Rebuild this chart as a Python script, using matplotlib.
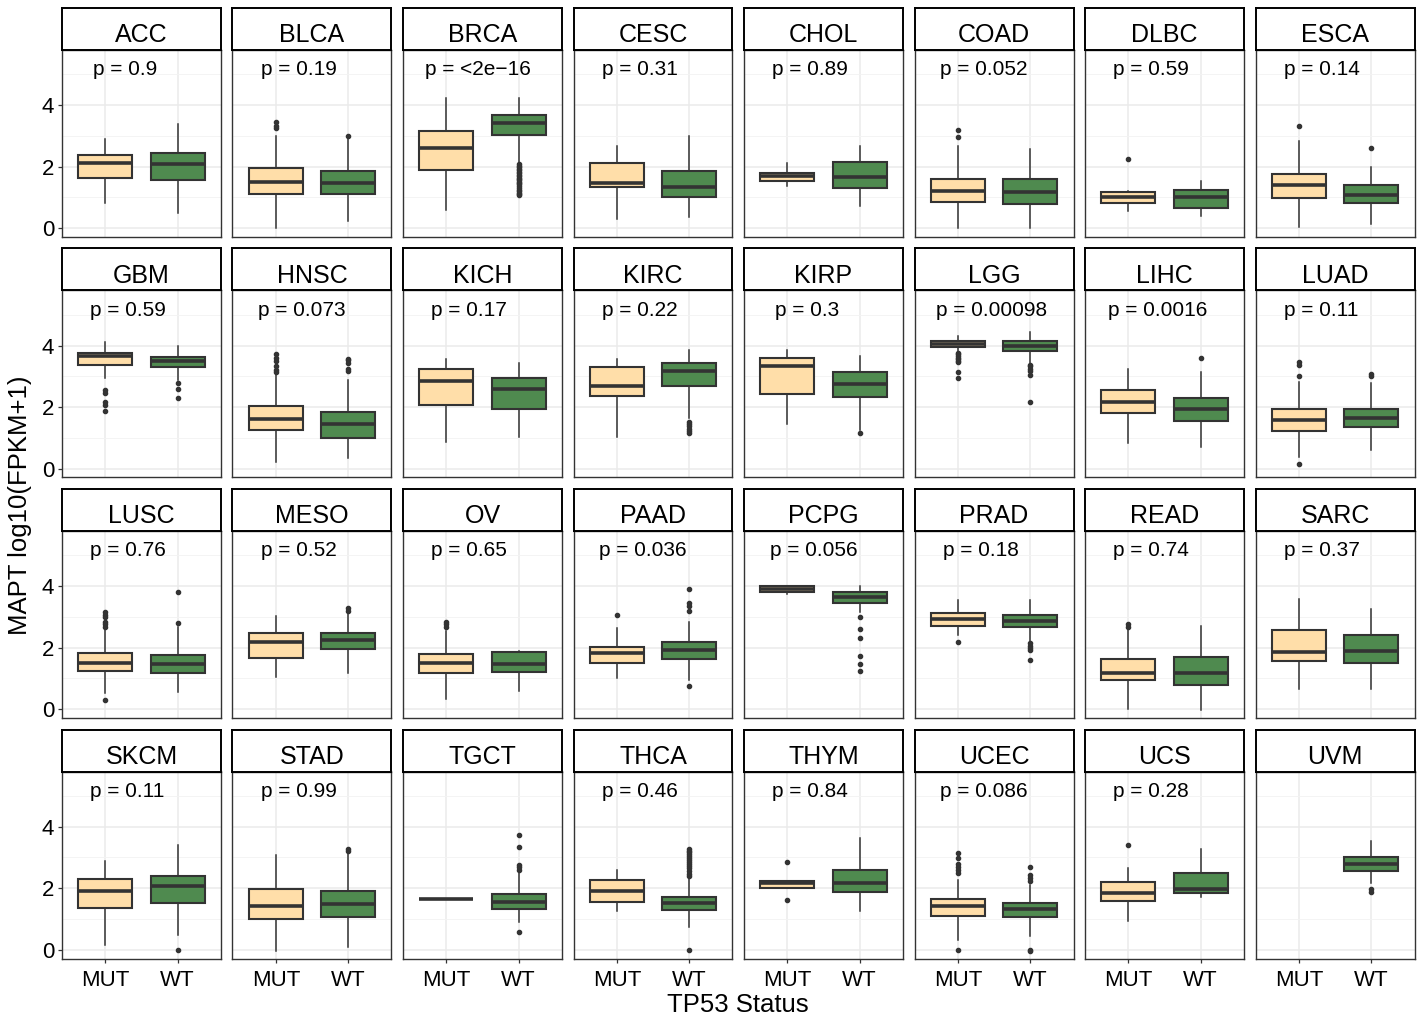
# boxplots_mapt_tp53.py — Expresión de MAPT según estado de TP53 en 32 tipos tumorales
# -------------------------------------------------------------------------------------
import matplotlib
matplotlib.use("Agg")
import matplotlib.pyplot as plt

plt.rcParams["font.family"] = ["Liberation Sans", "DejaVu Sans"]

TIPOS = ["ACC", "BLCA", "BRCA", "CESC", "CHOL", "COAD", "DLBC", "ESCA",
         "GBM", "HNSC", "KICH", "KIRC", "KIRP", "LGG", "LIHC", "LUAD",
         "LUSC", "MESO", "OV", "PAAD", "PCPG", "PRAD", "READ", "SARC",
         "SKCM", "STAD", "TGCT", "THCA", "THYM", "UCEC", "UCS", "UVM"]

P_VALORES = ["0.9", "0.19", "<2e\u221216", "0.31", "0.89", "0.052", "0.59", "0.14",
             "0.59", "0.073", "0.17", "0.22", "0.3", "0.00098", "0.0016", "0.11",
             "0.76", "0.52", "0.65", "0.036", "0.056", "0.18", "0.74", "0.37",
             "0.11", "0.99", None, "0.46", "0.84", "0.086", "0.28", None]

GRUPOS = ["MUT", "WT"]

# MUT: bigote inferior, Q1, mediana, Q3, bigote superior (None = sin muestras)
MUT_MIN = [0.83, 0.00, 0.58, 0.28, 1.37, 0.00, 0.55, 0.03,
           2.94, 0.22, 0.86, 1.04, 1.46, 3.80, 0.82, 0.38,
           0.53, 1.05, 0.32, 1.01, 3.74, 2.41, 0.00, 0.65,
           0.15, -0.03, 1.64, 1.25, 1.99, 0.30, 0.93, None]
MUT_Q1 = [1.64, 1.12, 1.88, 1.32, 1.52, 0.86, 0.83, 0.97,
          3.38, 1.26, 2.06, 2.37, 2.44, 3.96, 1.80, 1.22,
          1.23, 1.67, 1.17, 1.49, 3.81, 2.71, 0.95, 1.57,
          1.36, 0.99, 1.64, 1.55, 1.99, 1.08, 1.58, None]
MUT_MED = [2.12, 1.49, 2.61, 1.48, 1.70, 1.21, 1.01, 1.41,
           3.66, 1.62, 2.86, 2.69, 3.35, 4.05, 2.18, 1.58,
           1.50, 2.17, 1.50, 1.81, 3.90, 2.92, 1.18, 1.84,
           1.90, 1.42, 1.64, 1.91, 2.15, 1.41, 1.83, None]
MUT_Q3 = [2.39, 1.95, 3.16, 2.12, 1.79, 1.60, 1.18, 1.77,
          3.75, 2.02, 3.24, 3.31, 3.60, 4.15, 2.54, 1.93,
          1.82, 2.47, 1.78, 2.03, 3.99, 3.11, 1.62, 2.56,
          2.30, 1.97, 1.64, 2.26, 2.24, 1.64, 2.21, None]
MUT_MAX = [2.91, 2.99, 4.24, 2.67, 2.10, 2.67, 1.20, 2.83,
           4.12, 3.10, 3.57, 3.57, 3.84, 4.32, 3.24, 2.83,
           2.63, 3.04, 2.55, 2.63, 3.99, 3.55, 2.59, 3.59,
           2.89, 3.08, 1.64, 2.59, 2.24, 2.26, 2.64, None]
MUT_ATIPICOS = [
    [], [3.24, 3.33, 3.46], [], [], [], [2.95, 3.20], [2.23], [3.32],
    [2.54, 2.45, 2.17, 2.08, 1.87], [3.13, 3.22, 3.32, 3.49, 3.60, 3.71], [], [], [],
    [3.76, 3.71, 3.66, 3.60, 3.55, 3.50, 3.45, 3.13, 2.95], [], [3.46, 3.38, 3.02, 0.16],
    [3.17, 3.06, 2.99, 2.84, 2.77, 2.68, 0.28], [], [2.84, 2.77, 2.68], [3.06],
    [], [2.17], [2.68, 2.77], [],
    [], [], [], [], [2.84, 1.60], [2.48, 2.59, 2.70, 2.79, 2.97, 3.14, 0.00], [3.41], [],
]

# WT
WT_MIN = [0.49, 0.23, 2.10, 0.36, 0.71, 0.00, 0.40, 0.13,
          2.89, 0.33, 1.04, 1.63, 1.25, 3.40, 0.71, 0.62,
          0.54, 1.18, 0.59, 0.94, 3.17, 2.19, -0.04, 0.65,
          0.46, 0.08, 0.90, 0.73, 1.25, 0.43, 1.72, 2.15]
WT_Q1 = [1.55, 1.12, 3.02, 1.01, 1.30, 0.78, 0.64, 0.80,
         3.29, 1.01, 1.95, 2.67, 2.34, 3.83, 1.55, 1.36,
         1.17, 1.96, 1.19, 1.63, 3.45, 2.68, 0.78, 1.50,
         1.52, 1.06, 1.31, 1.30, 1.86, 1.06, 1.83, 2.57]
WT_MED = [2.08, 1.47, 3.42, 1.34, 1.66, 1.16, 1.01, 1.08,
          3.50, 1.45, 2.59, 3.18, 2.74, 4.00, 1.95, 1.63,
          1.48, 2.26, 1.48, 1.92, 3.63, 2.88, 1.18, 1.89,
          2.07, 1.48, 1.55, 1.50, 2.17, 1.31, 1.96, 2.79]
WT_Q3 = [2.45, 1.87, 3.67, 1.84, 2.14, 1.59, 1.25, 1.41,
         3.63, 1.85, 2.95, 3.42, 3.13, 4.14, 2.29, 1.94,
         1.77, 2.47, 1.87, 2.19, 3.80, 3.07, 1.70, 2.41,
         2.38, 1.90, 1.80, 1.72, 2.59, 1.53, 2.48, 3.01]
WT_MAX = [3.38, 2.93, 4.24, 2.99, 2.67, 2.57, 1.54, 1.97,
          3.99, 2.89, 3.43, 3.85, 3.67, 4.45, 3.14, 2.78,
          2.68, 3.17, 1.90, 2.84, 4.01, 3.55, 2.71, 3.26,
          3.41, 3.14, 2.48, 2.32, 3.63, 2.10, 3.28, 3.52]
WT_ATIPICOS = [
    [], [2.99],
    [2.08, 2.02, 1.97, 1.92, 1.88, 1.83, 1.78, 1.74, 1.69, 1.64, 1.59,
     1.55, 1.50, 1.46, 1.42, 1.37, 1.31, 1.25, 1.19, 1.14, 1.10, 1.06],
    [], [], [], [], [2.61],
    [2.78, 2.58, 2.28], [3.16, 3.24, 3.43, 3.52, 3.57], [],
    [1.53, 1.45, 1.38, 1.30, 1.22, 1.16], [1.17], [3.38, 3.32, 3.24, 3.16, 3.05, 2.16],
    [3.60], [3.00, 3.08],
    [2.81, 3.81], [3.20, 3.28], [], [3.19, 3.36, 3.44, 3.90, 0.76],
    [3.01, 2.60, 2.32, 1.73, 1.47, 1.23], [2.14, 2.06, 1.99, 1.92, 1.61], [], [],
    [0.00], [3.19, 3.28], [2.59, 2.67, 2.75, 3.33, 3.74, 0.58],
    [2.38, 2.45, 2.55, 2.65, 2.72, 2.78, 2.85, 2.92, 2.97, 3.04, 3.10, 3.16, 3.22, 3.27, 0.00],
    [], [2.23, 2.32, 2.43, 2.70, 0.00, -0.03], [], [1.96, 1.88],
]

COLORES = {"MUT": "#FFDEA9", "WT": "#4F8A4F"}
GRIS = "#333333"

# Geometría de la rejilla (en píxeles)
ANCHO, ALTO = 1424, 1021
X0, PASO_X, W_PANEL = 62, 170.5, 159
Y0, PASO_Y, H_PANEL, H_TIRA = 50, 240.5, 187, 42
N_COL = 8


def estadisticos(lo, q1, med, q3, hi, atipicos):
    return dict(whislo=lo, q1=q1, med=med, q3=q3, whishi=hi, fliers=atipicos)


def dibuja_panel(fig, i):
    fila, col = divmod(i, N_COL)
    x = X0 + PASO_X * col
    top = Y0 + PASO_Y * fila

    ax = fig.add_axes([x / ANCHO, 1 - (top + H_PANEL) / ALTO, W_PANEL / ANCHO, H_PANEL / ALTO])
    tira = fig.add_axes([x / ANCHO, 1 - top / ALTO, W_PANEL / ANCHO, H_TIRA / ALTO])

    # Cajas MUT / WT
    series = [
        (1, COLORES["MUT"], MUT_MIN, MUT_Q1, MUT_MED, MUT_Q3, MUT_MAX, MUT_ATIPICOS),
        (2, COLORES["WT"], WT_MIN, WT_Q1, WT_MED, WT_Q3, WT_MAX, WT_ATIPICOS),
    ]
    for pos, color, lo, q1, med, q3, hi, atip in series:
        if med[i] is None:
            continue
        st = estadisticos(lo[i], q1[i], med[i], q3[i], hi[i], atip[i])
        ax.bxp(
            [st], positions=[pos], widths=0.75, patch_artist=True, showcaps=False,
            boxprops=dict(facecolor=color, edgecolor=GRIS, linewidth=1.5),
            medianprops=dict(color=GRIS, linewidth=2.6, solid_capstyle="butt"),
            whiskerprops=dict(color=GRIS, linewidth=1.1),
            flierprops=dict(marker="o", markersize=3, markerfacecolor=GRIS,
                            markeredgecolor=GRIS),
            zorder=3,
        )

    ax.set_xlim(0.4, 2.6)
    ax.set_ylim(-0.29, 5.79)
    ax.set_xticks([1, 2])
    ax.set_xticklabels(GRUPOS)
    ax.set_yticks([0, 2, 4])
    ax.set_yticks([1, 3, 5], minor=True)
    ax.set_axisbelow(True)
    ax.grid(which="major", color="#EBEBEB", linewidth=1.1)
    ax.grid(which="minor", axis="y", color="#F3F3F3", linewidth=0.6)
    ax.tick_params(which="minor", length=0)
    ax.tick_params(which="major", length=3, width=0.9, color=GRIS,
                   labelsize=16, labelcolor="black", pad=2.5)
    ax.tick_params(axis="x", pad=5.5)
    if col != 0:
        ax.tick_params(axis="y", left=False, labelleft=False)
    if fila != 3:
        ax.tick_params(axis="x", bottom=False, labelbottom=False)
    for s in ax.spines.values():
        s.set_color(GRIS)
        s.set_linewidth(1.0)

    # Cabecera del panel
    tira.set_xticks([])
    tira.set_yticks([])
    tira.set_facecolor("white")
    for s in tira.spines.values():
        s.set_color("black")
        s.set_linewidth(1.4)
    tira.text(0.5, 0.18, TIPOS[i], transform=tira.transAxes, ha="center",
              va="baseline", fontsize=18)

    etiqueta = None
    if P_VALORES[i] is not None:
        etiqueta = ax.text(1.0, 5.14, f"p = {P_VALORES[i]}", ha="left", va="center",
                           fontsize=15, zorder=4)
    return ax, etiqueta


fig = plt.figure(figsize=(ANCHO / 100, ALTO / 100), dpi=100)

etiquetas = [dibuja_panel(fig, i) for i in range(len(TIPOS))]

# Ajuste horizontal de las etiquetas de p (ancla a ~20 % del ancho del texto)
fig.canvas.draw()
for ax, t in etiquetas:
    if t is None:
        continue
    bb = t.get_window_extent()
    xd, yd = ax.transData.transform((1.0, 5.14))
    xn, _ = ax.transData.inverted().transform((xd - 0.2 * bb.width, yd))
    t.set_x(xn)

fig.text(738 / ANCHO, 1 - 1005 / ALTO, "TP53 Status", ha="center", va="center", fontsize=18.5)
fig.text(20 / ANCHO, 1 - 505 / ALTO, "MAPT log10(FPKM+1)", ha="center", va="center",
         rotation=90, fontsize=18.5)

fig.savefig("out.png", dpi=100)
plt.close(fig)
